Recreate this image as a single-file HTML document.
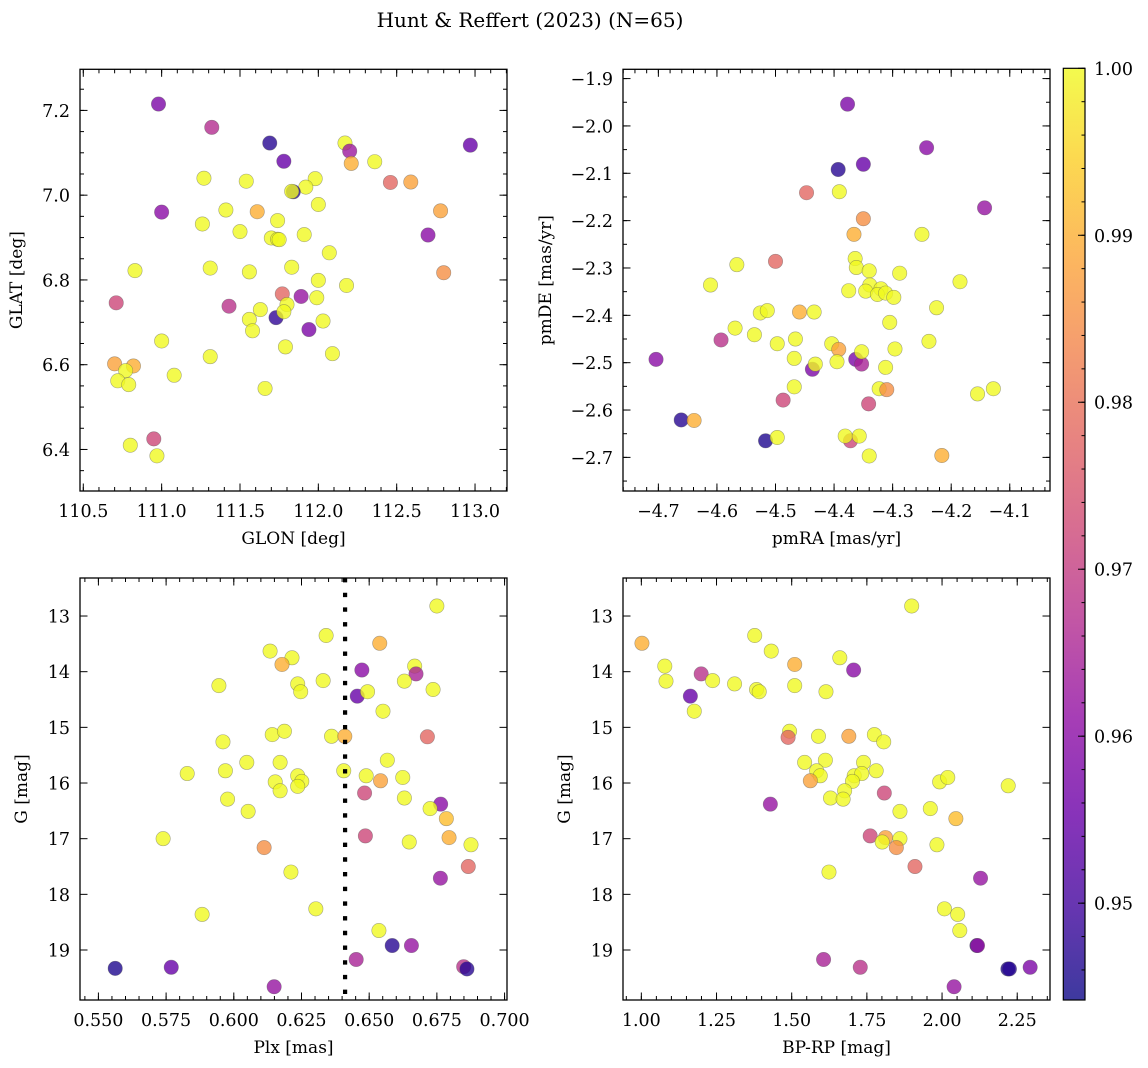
<!DOCTYPE html>
<html><head><meta charset="utf-8">
<style>
html,body{margin:0;padding:0;background:#fff;}
svg{display:block;}
text{font-family:"DejaVu Serif","Liberation Serif",serif;fill:#000;}
</style></head>
<body>
<svg id="fig" width="1148" height="1068" viewBox="0 0 1148 1068" xmlns="http://www.w3.org/2000/svg">
<text x="530" y="27" font-size="20" text-anchor="middle">Hunt &amp; Reffert (2023) (N=65)</text>
<defs>
<linearGradient id="plasmaGrad" x1="0" y1="1" x2="0" y2="0">
<stop offset="0" stop-color="#0d0887"/><stop offset="0.1" stop-color="#41049d"/><stop offset="0.2" stop-color="#6a00a8"/><stop offset="0.3" stop-color="#8f0da4"/><stop offset="0.4" stop-color="#b12a90"/><stop offset="0.5" stop-color="#cc4778"/><stop offset="0.6" stop-color="#e16462"/><stop offset="0.7" stop-color="#f2844b"/><stop offset="0.8" stop-color="#fca636"/><stop offset="0.9" stop-color="#fcce25"/><stop offset="1" stop-color="#f0f921"/>
</linearGradient>
</defs>
<g id="layer"></g>
</svg>
<script>
// ---- data: panel 1 (GLON/GLAT)
const glon = [110.98,111.32,111.69,111.78,112.17,112.20,112.21,112.36,112.97,111.27,111.54,111.98,111.92,111.84,111.83,112.46,112.59,111.00,111.41,111.61,112.00,111.74,111.26,112.78,111.50,111.70,111.74,111.91,112.70,112.07,110.83,111.31,111.56,111.83,112.00,112.18,112.80,110.71,111.43,111.77,111.89,111.99,111.63,111.80,111.56,111.73,111.78,111.94,112.03,111.58,111.00,111.31,111.79,112.09,110.70,110.82,110.77,110.72,110.79,111.08,111.66,110.95,110.80,110.97,111.75];
const glat = [7.215,7.160,7.123,7.080,7.123,7.104,7.075,7.079,7.118,7.040,7.033,7.039,7.019,7.008,7.009,7.030,7.031,6.960,6.965,6.961,6.978,6.940,6.932,6.963,6.914,6.899,6.896,6.907,6.906,6.864,6.822,6.828,6.819,6.830,6.799,6.787,6.817,6.746,6.738,6.767,6.761,6.758,6.730,6.742,6.707,6.711,6.725,6.683,6.703,6.680,6.656,6.619,6.642,6.626,6.602,6.597,6.586,6.562,6.553,6.575,6.544,6.425,6.410,6.385,6.895];
const prob1 = [0.958,0.967,0.947,0.955,1,0.963,0.99,1,0.955,1,1,1,1,0.947,1,0.978,0.988,0.96,1,0.99,1,1,1,0.988,1,1,1,1,0.96,1,1,1,1,1,1,1,0.985,0.972,0.968,0.978,0.962,1,1,1,1,0.948,1,0.958,1,1,1,1,1,1,0.988,0.99,1,1,1,1,1,0.972,1,1,1];
// ---- data: panel 2 (pmRA/pmDE)
const pmra = [-4.377,-4.242,-4.393,-4.350,-4.447,-4.391,-4.143,-4.350,-4.366,-4.250,-4.364,-4.362,-4.340,-4.288,-4.500,-4.566,-4.611,-4.185,-4.375,-4.339,-4.346,-4.320,-4.326,-4.312,-4.298,-4.225,-4.526,-4.514,-4.459,-4.434,-4.305,-4.569,-4.536,-4.593,-4.497,-4.466,-4.404,-4.392,-4.238,-4.296,-4.704,-4.468,-4.437,-4.432,-4.395,-4.363,-4.353,-4.353,-4.312,-4.468,-4.323,-4.310,-4.155,-4.128,-4.487,-4.341,-4.661,-4.639,-4.517,-4.497,-4.372,-4.381,-4.357,-4.340,-4.216];
const pmde = [-1.954,-2.046,-2.092,-2.081,-2.141,-2.139,-2.173,-2.196,-2.229,-2.229,-2.280,-2.299,-2.306,-2.311,-2.286,-2.293,-2.336,-2.329,-2.348,-2.336,-2.349,-2.344,-2.356,-2.353,-2.362,-2.384,-2.395,-2.390,-2.393,-2.393,-2.415,-2.427,-2.441,-2.452,-2.460,-2.450,-2.460,-2.472,-2.455,-2.471,-2.493,-2.491,-2.514,-2.503,-2.498,-2.493,-2.503,-2.477,-2.510,-2.551,-2.555,-2.557,-2.566,-2.555,-2.579,-2.587,-2.621,-2.622,-2.665,-2.658,-2.665,-2.655,-2.655,-2.697,-2.696];
const prob2 = [0.958,0.96,0.947,0.955,0.978,1,0.962,0.985,0.99,1,1,1,1,1,0.978,1,1,1,1,1,1,1,1,1,1,1,1,1,0.99,1,1,1,1,0.968,1,1,1,0.988,1,1,0.96,1,0.958,1,1,0.958,0.965,1,1,1,1,0.985,1,1,0.972,0.972,0.947,0.99,0.946,1,0.972,1,1,1,0.99];
// ---- data: panel 3 (Plx/G)
const plx = [0.675,0.6341,0.6539,0.6134,0.6215,0.6178,0.6668,0.6473,0.6673,0.5945,0.6236,0.6330,0.6247,0.6630,0.6736,0.6456,0.6494,0.6551,0.6142,0.6187,0.6361,0.6410,0.6715,0.5960,0.6048,0.6171,0.6567,0.5828,0.5969,0.6153,0.6236,0.6251,0.6236,0.6171,0.6406,0.6489,0.6542,0.6624,0.6483,0.6630,0.5977,0.6764,0.6725,0.6785,0.6053,0.5739,0.6486,0.6648,0.6795,0.6876,0.6112,0.6866,0.6763,0.6211,0.5883,0.6303,0.6536,0.6585,0.6656,0.6452,0.5562,0.5769,0.6849,0.6861,0.6149];
const g3 = [12.82,13.35,13.49,13.63,13.75,13.87,13.90,13.97,14.04,14.25,14.22,14.16,14.36,14.17,14.32,14.44,14.36,14.71,15.13,15.07,15.16,15.16,15.17,15.26,15.63,15.63,15.59,15.83,15.78,15.98,15.87,15.97,16.06,16.14,15.78,15.87,15.96,15.90,16.18,16.27,16.29,16.38,16.46,16.64,16.51,17.00,16.95,17.06,16.98,17.11,17.16,17.50,17.71,17.60,18.36,18.26,18.65,18.92,18.92,19.17,19.33,19.31,19.30,19.34,19.66];
const prob3 = [1,1,0.99,1,1,0.99,1,0.96,0.965,1,1,1,1,1,1,0.955,1,1,1,1,1,0.99,0.978,1,1,1,1,1,1,1,1,1,1,1,1,1,0.988,1,0.972,1,1,0.96,1,0.992,1,1,0.972,1,0.99,1,0.985,0.978,0.962,1,1,1,1,0.947,0.962,0.965,0.946,0.955,0.968,0.947,0.962];
const plxCut = [0.6411];
// ---- data: panel 4 (BP-RP/G)
const bprp = [1.899,1.002,1.377,1.432,1.660,1.510,1.078,1.706,1.199,1.082,1.237,1.310,1.383,1.392,1.510,1.614,1.163,1.176,1.493,1.488,1.589,1.690,1.775,1.806,1.543,1.612,1.739,1.583,1.595,1.562,1.708,1.733,1.702,1.676,1.781,1.992,2.019,2.220,1.808,1.629,1.671,1.429,1.860,1.961,2.046,1.761,1.812,1.801,1.860,1.848,1.983,1.910,2.128,1.624,2.008,2.052,2.059,2.116,1.606,1.728,2.219,2.224,2.293,2.040,2.118];
const g4 = [12.82,13.49,13.35,13.63,13.75,13.87,13.90,13.97,14.04,14.17,14.16,14.22,14.32,14.36,14.25,14.36,14.44,14.71,15.07,15.18,15.16,15.16,15.13,15.26,15.63,15.59,15.63,15.78,15.87,15.96,15.87,15.83,15.97,16.14,15.78,15.98,15.90,16.05,16.18,16.27,16.29,16.38,16.51,16.46,16.64,16.95,16.98,17.06,17.00,17.16,17.11,17.50,17.71,17.60,18.26,18.36,18.65,18.92,19.17,19.31,19.34,19.34,19.31,19.66,18.92];
const prob4 = [1,0.99,1,1,1,0.99,1,0.96,0.968,1,1,1,1,1,1,1,0.955,1,1,0.978,1,0.988,1,1,1,1,1,1,1,0.988,1,1,1,1,1,1,1,1,0.972,1,1,0.962,1,1,0.992,0.972,0.988,1,1,0.985,1,0.978,0.962,1,1,1,1,0.947,0.965,0.968,0.946,0.947,0.958,0.962,0.962];
// ---- ticks
const p1xTicks = [110.5,111.0,111.5,112.0,112.5,113.0];
const p1xLabels = ["110.5","111.0","111.5","112.0","112.5","113.0"];
const p1yTicks = [6.4,6.6,6.8,7.0,7.2];
const p1yLabels = ["6.4","6.6","6.8","7.0","7.2"];
const p2xTicks = [-4.7,-4.6,-4.5,-4.4,-4.3,-4.2,-4.1];
const p2xLabels = ["−4.7","−4.6","−4.5","−4.4","−4.3","−4.2","−4.1"];
const p2yTicks = [-2.7,-2.6,-2.5,-2.4,-2.3,-2.2,-2.1,-2.0,-1.9];
const p2yLabels = ["−2.7","−2.6","−2.5","−2.4","−2.3","−2.2","−2.1","−2.0","−1.9"];
const p3xTicks = [0.55,0.575,0.6,0.625,0.65,0.675,0.7];
const p3xLabels = ["0.550","0.575","0.600","0.625","0.650","0.675","0.700"];
const gTicks = [13,14,15,16,17,18,19];
const gLabels = ["13","14","15","16","17","18","19"];
const p4xTicks = [1.0,1.25,1.5,1.75,2.0,2.25];
const p4xLabels = ["1.00","1.25","1.50","1.75","2.00","2.25"];
const cbTicks = [0.95,0.96,0.97,0.98,0.99,1.00];
const cbLabels = ["0.95","0.96","0.97","0.98","0.99","1.00"];
const cbRange = [0.9442,1.0];

const NS = "http://www.w3.org/2000/svg";
const layer = document.getElementById('layer');
function mk(tag, attrs, parent){
  const e = document.createElementNS(NS, tag);
  for (const k in attrs) e.setAttribute(k, attrs[k]);
  (parent||layer).appendChild(e); return e;
}
const stops = ["#0d0887","#41049d","#6a00a8","#8f0da4","#b12a90","#cc4778","#e16462","#f2844b","#fca636","#fcce25","#f0f921"];
function hex(h){return [parseInt(h.substr(1,2),16),parseInt(h.substr(3,2),16),parseInt(h.substr(5,2),16)];}
function plasma(p){
  let t = (p-cbRange[0])/(cbRange[1]-cbRange[0]); t=Math.max(0,Math.min(1,t));
  const f=t*10, i=Math.min(9,Math.floor(f)), r=f-i;
  const a=hex(stops[i]), b=hex(stops[i+1]);
  return "rgb("+a.map((v,k)=>Math.round(v+(b[k]-v)*r)).join(",")+")";
}
function range(a,b,s){const o=[];for(let v=a;v<=b+1e-9;v+=s)o.push(+v.toFixed(6));return o;}

function panel(cfg){
  const {name,box,xr,yr,xt,xl,yt,yl,xminor,yminor,xs,ys,ps,xlabel,ylabel,ylabX} = cfg;
  const g = mk('g',{});
  
  
  const X = v => box[0] + (v-xr[0])/(xr[1]-xr[0])*(box[2]-box[0]);
  const Y = v => box[3] - (v-yr[0])/(yr[1]-yr[0])*(box[3]-box[1]);
  const clip = 'clip-'+name;
  const cp = mk('clipPath',{id:clip},g);
  mk('rect',{x:box[0],y:box[1],width:box[2]-box[0],height:box[3]-box[1]},cp);
  const pts = mk('g',{'clip-path':'url(#'+clip+')'},g);
  
  
  for(let i=0;i<xs.length;i++){
    const c = mk('circle',{cx:X(xs[i]).toFixed(2),cy:Y(ys[i]).toFixed(2),r:7.2,fill:plasma(ps[i]),'fill-opacity':0.8,stroke:'#555','stroke-opacity':0.5,'stroke-width':0.6},pts);
    
    
  }
  if(cfg.vline){
    const vl = mk('line',{x1:X(cfg.vline[0]),x2:X(cfg.vline[0]),y1:box[1],y2:box[3],stroke:'#000','stroke-width':4.2,'stroke-dasharray':'4.4 10.3'},pts);
    
    
  }
  const ax = mk('g',{stroke:'#000','stroke-width':1},g);
  
  
  const xmn = range(xminor[0],xminor[1],xminor[2]).filter(v=>v>=xr[0]&&v<=xr[1]);
  xmn.forEach(v=>{const x=X(v);mk('line',{x1:x,x2:x,y1:box[3],y2:box[3]-4},ax);mk('line',{x1:x,x2:x,y1:box[1],y2:box[1]+4},ax);});
  const ymn = range(yminor[0],yminor[1],yminor[2]).filter(v=>v>=yr[0]&&v<=yr[1]);
  ymn.forEach(v=>{const y=Y(v);mk('line',{x1:box[0],x2:box[0]+4,y1:y,y2:y},ax);mk('line',{x1:box[2],x2:box[2]-4,y1:y,y2:y},ax);});
  xt.forEach((v,i)=>{const x=X(v);mk('line',{x1:x,x2:x,y1:box[3],y2:box[3]-7.5},ax);mk('line',{x1:x,x2:x,y1:box[1],y2:box[1]+7.5},ax);
    const t=mk('text',{x:x,y:box[3]+26,'font-size':17.5,'text-anchor':'middle',stroke:'none'},g);t.textContent=xl[i];
    
    });
  yt.forEach((v,i)=>{const y=Y(v);mk('line',{x1:box[0],x2:box[0]+7.5,y1:y,y2:y},ax);mk('line',{x1:box[2],x2:box[2]-7.5,y1:y,y2:y},ax);
    const t=mk('text',{x:box[0]-10,y:y+6.5,'font-size':17.5,'text-anchor':'end',stroke:'none'},g);t.textContent=yl[i];
    
    });
  mk('rect',{x:box[0],y:box[1],width:box[2]-box[0],height:box[3]-box[1],fill:'none',stroke:'#000','stroke-width':1.3},g);
  const xla=mk('text',{x:(box[0]+box[2])/2,y:box[3]+53,'font-size':17,'text-anchor':'middle'},g);xla.textContent=xlabel;
  
  
  const cy=(box[1]+box[3])/2;
  const yla=mk('text',{x:ylabX,y:cy,'font-size':17,'text-anchor':'middle',transform:'rotate(-90 '+ylabX+' '+cy+')'},g);yla.textContent=ylabel;
  
  
}

panel({name:'glon-glat-panel',box:[80,69.3,507,491],xr:[110.479,113.204],yr:[6.302,7.297],xt:p1xTicks,xl:p1xLabels,yt:p1yTicks,yl:p1yLabels,xminor:[110.5,113.2,0.1],yminor:[6.35,7.3,0.05],xs:glon,ys:glat,ps:prob1,xlabel:'GLON [deg]',ylabel:'GLAT [deg]',ylabX:22});
panel({name:'pm-panel',box:[623,69.3,1050,491],xr:[-4.7604,-4.0313],yr:[-2.771,-1.8804],xt:p2xTicks,xl:p2xLabels,yt:p2yTicks,yl:p2yLabels,xminor:[-4.76,-4.02,0.02],yminor:[-2.75,-1.85,0.05],xs:pmra,ys:pmde,ps:prob2,xlabel:'pmRA [mas/yr]',ylabel:'pmDE [mas/yr]',ylabX:551});
panel({name:'plx-g-panel',box:[80,578,507,1000],xr:[0.5432,0.7009],yr:[19.898,12.317],xt:p3xTicks,xl:p3xLabels,yt:gTicks,yl:gLabels,xminor:[0.545,0.7,0.005],yminor:[12.4,19.8,0.2],xs:plx,ys:g3,ps:prob3,vline:plxCut,xlabel:'Plx [mas]',ylabel:'G [mag]',ylabX:27});
panel({name:'color-g-panel',box:[623,578,1050,1000],xr:[0.939,2.359],yr:[19.898,12.317],xt:p4xTicks,xl:p4xLabels,yt:gTicks,yl:gLabels,xminor:[0.95,2.35,0.05],yminor:[12.4,19.8,0.2],xs:bprp,ys:g4,ps:prob4,xlabel:'BP-RP [mag]',ylabel:'G [mag]',ylabX:570});

// colorbar
(function(){
  const cb=[1063.3,68.3,1085,1000];
  const g=mk('g',{});
  
  
  mk('rect',{x:cb[0],y:cb[1],width:cb[2]-cb[0],height:cb[3]-cb[1],fill:'url(#plasmaGrad)','fill-opacity':0.8},g);
  const Y=v=>cb[3]-(v-cbRange[0])/(cbRange[1]-cbRange[0])*(cb[3]-cb[1]);
  range(0.946,1.0,0.002).forEach(v=>{const y=Y(v);mk('line',{x1:cb[2],x2:cb[2]-3.5,y1:y,y2:y,stroke:'#000','stroke-width':1},g);});
  cbTicks.forEach((v,i)=>{const y=Y(v);mk('line',{x1:cb[2],x2:cb[2]-7,y1:y,y2:y,stroke:'#000','stroke-width':1},g);
    const t=mk('text',{x:cb[2]+9,y:y+6.5,'font-size':17.5},g);t.textContent=cbLabels[i];
    
    });
  mk('rect',{x:cb[0],y:cb[1],width:cb[2]-cb[0],height:cb[3]-cb[1],fill:'none',stroke:'#000','stroke-width':1.2},g);
})();
</script>
</body></html>
